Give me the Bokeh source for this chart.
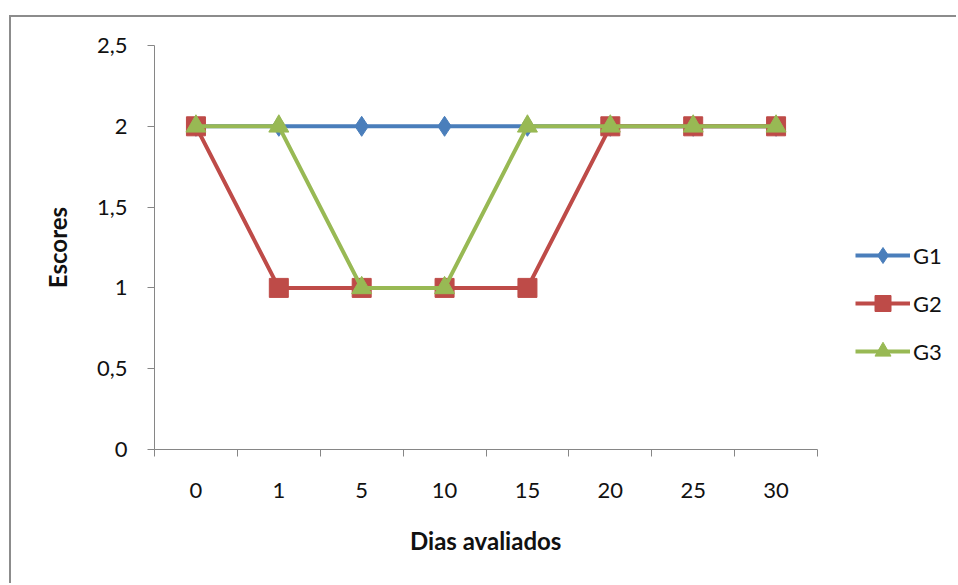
from bokeh.plotting import figure
from bokeh.models import FixedTicker, Legend, LegendItem, Range1d, Title
from bokeh.embed import file_html
from bokeh.resources import INLINE

# Days evaluated (categories) and scores per group
dias = ["0", "1", "5", "10", "15", "20", "25", "30"]
g1 = [2, 2, 2, 2, 2, 2, 2, 2]
g2 = [2, 1, 1, 1, 1, 2, 2, 2]
g3 = [2, 2, 1, 1, 2, 2, 2, 2]
y_ticks = [0, 0.5, 1, 1.5, 2, 2.5]
y_labels = ["0", "0,5", "1", "1,5", "2", "2,5"]

FONT = "Lato"
AXIS_GRAY = "#868686"
TEXT = "#111111"

# chart area offset inside the page (left, top) and its border width
OFF_L, OFF_T, BW = 9, 15, 2
# plot area in page pixels; the frame is widened to the right to host the legend
PLOT_L, PLOT_R, PLOT_T, PLOT_B = 154, 817, 45, 449
FRAME_R = 950
n = len(dias)
x_end = -0.5 + n * (FRAME_R - PLOT_L) / (PLOT_R - PLOT_L)

xs = list(range(n))

p = figure(width=958 - OFF_L - BW, height=585 - OFF_T - BW,
           output_backend="svg", toolbar_location=None,
           x_range=Range1d(-0.5, x_end), y_range=Range1d(0, 2.5),
           min_border_left=PLOT_L - OFF_L - BW, min_border_right=958 - FRAME_R,
           min_border_top=PLOT_T - OFF_T - BW, min_border_bottom=585 - PLOT_B)
p.margin = (OFF_T, 0, 0, OFF_L)
p.styles = {"border-top": f"{BW}px solid #8C8C8C",
            "border-left": f"{BW}px solid #8C8C8C"}
p.outline_line_color = None
p.xgrid.visible = False
p.ygrid.visible = False
p.background_fill_color = "white"
p.border_fill_color = "white"

# x axis: labels at category centres, tick marks on category boundaries
xax = p.xaxis[0]
xax.bounds = (-0.5, n - 0.5)
xax.ticker = FixedTicker(ticks=xs, minor_ticks=[i - 0.5 for i in range(n + 1)])
xax.major_label_overrides = {i: d for i, d in enumerate(dias)}
xax.major_tick_out = 0
xax.major_tick_in = 0
xax.minor_tick_out = 7
xax.minor_tick_in = 0
xax.minor_tick_line_color = AXIS_GRAY
xax.axis_line_color = AXIS_GRAY
xax.major_label_standoff = 26
xax.major_label_text_font = FONT
xax.major_label_text_font_size = "22px"
xax.major_label_text_color = TEXT

# x axis title, centred under the plot area (not under the widened frame)
x_title = Title(text="Dias avaliados", align="left",
                offset=(PLOT_R + PLOT_L) / 2 - PLOT_L - 76, standoff=47,
                text_font=FONT, text_font_size="24px", text_font_style="bold",
                text_color=TEXT)
p.add_layout(x_title, "below")

yax = p.yaxis[0]
yax.ticker = FixedTicker(ticks=y_ticks)
yax.major_label_overrides = {t: l for t, l in zip(y_ticks, y_labels)}
yax.major_tick_out = 7
yax.major_tick_in = 0
yax.major_tick_line_color = AXIS_GRAY
yax.minor_tick_line_color = None
yax.axis_line_color = AXIS_GRAY
yax.major_label_standoff = 20
yax.major_label_text_font = FONT
yax.major_label_text_font_size = "22px"
yax.major_label_text_color = TEXT
yax.axis_label = "Escores"
yax.axis_label_text_font = FONT
yax.axis_label_text_font_size = "24px"
yax.axis_label_text_font_style = "bold"
yax.axis_label_text_color = TEXT
yax.axis_label_standoff = 22

BLUE = "#4A7EBB"
RED = "#BE4B48"
GREEN = "#98B954"

l1 = p.line(xs, g1, line_color=BLUE, line_width=4)
m1 = p.scatter(xs, g1, marker="diamond", size=20, fill_color=BLUE, line_color=BLUE)
l2 = p.line(xs, g2, line_color=RED, line_width=4)
m2 = p.scatter(xs, g2, marker="square", size=19, fill_color=RED, line_color=RED)
l3 = p.line(xs, g3, line_color=GREEN, line_width=4)
m3 = p.scatter(xs, g3, marker="triangle", size=20, fill_color=GREEN, line_color=GREEN)

legend = Legend(items=[LegendItem(label="G1", renderers=[l1, m1]),
                       LegendItem(label="G2", renderers=[l2, m2]),
                       LegendItem(label="G3", renderers=[l3, m3])],
                location=(855 - PLOT_L, 78), orientation="vertical",
                glyph_width=55, glyph_height=40, label_height=40,
                label_standoff=3, spacing=8, padding=0, margin=0,
                border_line_color=None, background_fill_alpha=0,
                label_text_font=FONT, label_text_font_size="22px",
                label_text_color=TEXT)
p.add_layout(legend, "center")

open("out.html", "w").write(file_html(p, INLINE))
